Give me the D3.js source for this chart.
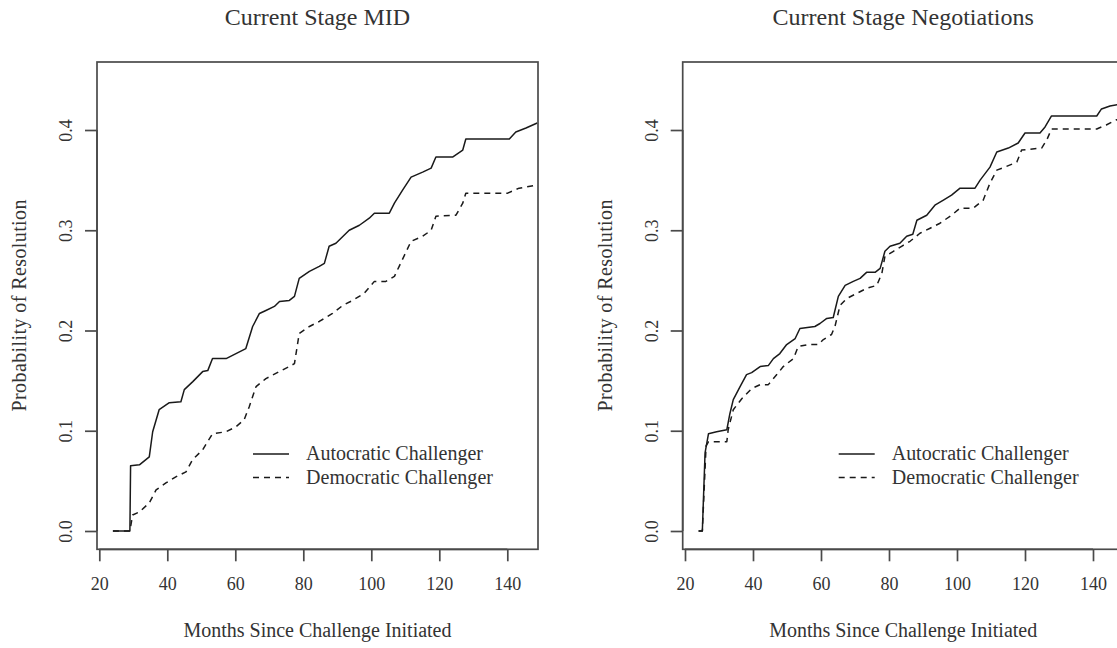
<!DOCTYPE html>
<html><head><meta charset="utf-8">
<script src="https://cdn.jsdelivr.net/npm/d3@7"></script>
<style>html,body{margin:0;padding:0;background:#fff}svg{display:block}text{font-family:"Liberation Serif","DejaVu Serif",serif;fill:#333}</style>
</head><body>
<svg id="c" width="1117" height="648"></svg>
<script>
// ---- data ----
const panelTitles = ["Current Stage MID", "Current Stage Negotiations"];
const seriesNames = ["Autocratic Challenger", "Democratic Challenger"];
const xTicks = [20, 40, 60, 80, 100, 120, 140];
const yTicks = [0, 0.1, 0.2, 0.3, 0.4];
const xLabel = "Months Since Challenge Initiated";
const yLabel = "Probability of Resolution";

const midAutoMonths = [24,29,29.2,31.8,34.7,35.7,37.6,40.6,44,45,47.5,50.4,51.9,53.3,57.3,60.2,63.1,65.1,67.1,69,71.5,73,75.9,77.4,78.8,81.8,84.7,86.2,87.6,89.6,91.1,93.5,96.5,99.4,100.9,105.3,106.8,109.2,111.7,115.1,117.6,119,123.9,126.9,127.8,140.6,142.5,145.5,148.8];
const midAutoProb = [0,0,0.065,0.066,0.074,0.099,0.121,0.128,0.129,0.141,0.149,0.159,0.160,0.172,0.172,0.177,0.182,0.204,0.217,0.220,0.224,0.229,0.230,0.234,0.252,0.259,0.264,0.267,0.284,0.287,0.292,0.300,0.305,0.312,0.317,0.317,0.327,0.340,0.353,0.358,0.362,0.373,0.373,0.380,0.391,0.391,0.398,0.402,0.407];

const midDemoMonths = [24,29,29.8,31.8,34.7,36.7,39.6,42.5,45.5,47.4,50.4,53.3,57.3,60.2,62.6,64.1,66.1,69,72.9,75.9,77.4,78.8,81.8,84.7,88.6,91.6,94.5,97.9,100.9,104.3,106.8,108.2,111.7,115.1,117.6,119,124.9,126.9,127.8,140.1,143.5,148.8];
const midDemoProb = [0,0,0.016,0.019,0.028,0.041,0.048,0.054,0.059,0.071,0.081,0.097,0.099,0.104,0.111,0.124,0.144,0.152,0.159,0.164,0.167,0.197,0.204,0.209,0.217,0.225,0.230,0.237,0.249,0.249,0.254,0.264,0.289,0.294,0.300,0.314,0.315,0.327,0.337,0.337,0.342,0.345];

const negAutoMonths = [24,25.1,25.9,26.9,29.3,32.3,33.2,34.2,36.2,38.1,39.6,42.1,44.5,46,47.9,49.9,52.4,53.8,58.2,59.7,61.7,63.6,65.1,67.1,69.5,71.5,73.4,75.9,77.4,78.8,80.3,83.2,85.2,87,88.2,91.1,93.5,96,98.4,100.9,105.3,106.8,109.7,111.7,115.1,118,120,124.4,125.9,127.8,141.1,142.5,145,148.8];
const negAutoProb = [0,0,0.078,0.097,0.099,0.101,0.117,0.131,0.144,0.156,0.158,0.164,0.165,0.172,0.177,0.186,0.192,0.202,0.204,0.207,0.212,0.213,0.234,0.245,0.249,0.252,0.258,0.258,0.262,0.279,0.284,0.287,0.294,0.296,0.310,0.315,0.325,0.330,0.335,0.342,0.342,0.350,0.363,0.378,0.382,0.387,0.397,0.397,0.403,0.414,0.414,0.421,0.424,0.426];

const negDemoMonths = [24,25.1,26.2,26.9,32.3,32.7,34.2,36.7,39.6,42.1,44.5,47,48.9,51.9,53.3,56.3,59.2,60.7,63.1,64.1,65.6,67.6,70.5,73.4,76.4,77.9,78.8,81.3,83.7,86.2,89.1,92.1,95,98.4,100.9,104.8,107.7,109.7,111.7,114.1,117.6,119,124.9,126.4,127.8,141.1,143.9,146.8,148.8];
const negDemoProb = [0,0,0.085,0.089,0.089,0.101,0.121,0.132,0.142,0.146,0.146,0.156,0.164,0.172,0.184,0.186,0.186,0.191,0.196,0.204,0.225,0.232,0.237,0.242,0.245,0.257,0.274,0.279,0.284,0.289,0.297,0.302,0.307,0.315,0.322,0.322,0.330,0.347,0.360,0.363,0.368,0.380,0.382,0.390,0.401,0.401,0.405,0.410,0.413];

const panels = [
  {title: panelTitles[0], series: [[midAutoMonths, midAutoProb], [midDemoMonths, midDemoProb]]},
  {title: panelTitles[1], series: [[negAutoMonths, negAutoProb], [negDemoMonths, negDemoProb]]}
];

// ---- drawing ----
const svg = d3.select("#c");
const ink = "#1a1a1a", axisInk = "#4a4a4a";
const boxW = 441, boxTop = 62, boxBot = 549.3;
const dashes = [null, "6,5"];
const legendLen = [177, 187];

panels.forEach((p, i) => {
  const off = i * 585.7;
  const left = 97 + off, right = left + boxW, cx = (left + right) / 2;
  const g = svg.append("g");
  const x = d3.scaleLinear().domain([20, 140]).range([99.3 + off, 507.3 + off]);
  const y = d3.scaleLinear().domain([0, 0.4]).range([531, 130]);

  const cid = "clip" + i;
  svg.append("clipPath").attr("id", cid).append("rect")
    .attr("x", left).attr("y", boxTop).attr("width", boxW).attr("height", boxBot - boxTop);

  // series
  const line = d3.line().x(d => x(d[0])).y(d => y(d[1]));
  p.series.forEach((s, k) => {
    const pts = s[0].map((m, j) => [m, s[1][j]]);
    g.append("path").attr("d", line(pts)).attr("clip-path", `url(#${cid})`)
      .attr("fill", "none").attr("stroke", ink).attr("stroke-width", 1.5)
      .attr("stroke-dasharray", dashes[k]).attr("stroke-linejoin", "round");
  });

  // box
  g.append("rect").attr("x", left).attr("y", boxTop).attr("width", boxW).attr("height", boxBot - boxTop)
    .attr("fill", "none").attr("stroke", axisInk).attr("stroke-width", 1.7);

  // x axis
  const xa = g.append("g").attr("transform", `translate(0,${boxBot})`)
    .call(d3.axisBottom(x).tickValues(xTicks).tickSize(12).tickFormat(d3.format("d")));
  xa.select(".domain").attr("d", `M${x(20)},0H${x(140)}`).attr("stroke", axisInk).attr("stroke-width", 1.7);
  xa.selectAll(".tick line").attr("stroke", axisInk).attr("stroke-width", 1.7);
  xa.selectAll(".tick text").attr("font-size", 18).attr("font-family", '"Liberation Serif",serif').attr("fill", "#333")
    .attr("y", 590 - boxBot).attr("dy", null);

  // y axis
  const ya = g.append("g").attr("transform", `translate(${left},0)`)
    .call(d3.axisLeft(y).tickValues(yTicks).tickSize(12).tickFormat(d3.format(".1f")));
  ya.select(".domain").attr("d", `M0,${y(0)}V${y(0.4)}`).attr("stroke", axisInk).attr("stroke-width", 1.7);
  ya.selectAll(".tick line").attr("stroke", axisInk).attr("stroke-width", 1.7);
  ya.selectAll(".tick text").attr("font-size", 18).attr("font-family", '"Liberation Serif",serif').attr("fill", "#333")
    .attr("x", null).attr("y", 0).attr("dy", null).attr("text-anchor", "middle")
    .attr("transform", "translate(-25,0) rotate(-90)");

  // title
  g.append("text").attr("x", cx).attr("y", 25).attr("text-anchor", "middle")
    .attr("font-size", 24).text(p.title);
  // x label
  g.append("text").attr("x", cx).attr("y", 637).attr("text-anchor", "middle")
    .attr("font-size", 20).attr("textLength", 268).attr("lengthAdjust", "spacing").text(xLabel);
  // y label
  g.append("text").attr("transform", `translate(${26 + off},${305.5}) rotate(-90)`).attr("text-anchor", "middle")
    .attr("font-size", 20).attr("textLength", 212).attr("lengthAdjust", "spacing").text(yLabel);

  // legend
  const lx0 = 253 + off, lx1 = 289 + off, tx = 306 + off;
  [454, 477.5].forEach((ly, k) => {
    g.append("line").attr("x1", lx0).attr("x2", lx1).attr("y1", ly).attr("y2", ly)
      .attr("stroke", ink).attr("stroke-width", 1.5).attr("stroke-dasharray", dashes[k]);
    g.append("text").attr("x", tx).attr("y", ly).attr("dy", "0.3em").attr("font-size", 20)
      .attr("textLength", legendLen[k]).attr("lengthAdjust", "spacing").text(seriesNames[k]);
  });
});
</script>
</body></html>
